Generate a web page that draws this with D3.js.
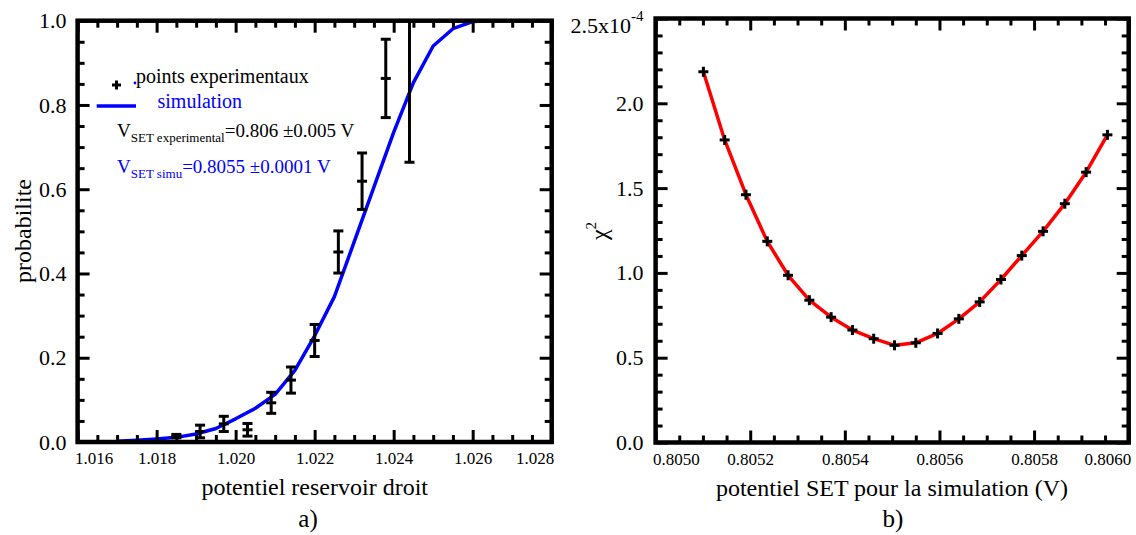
<!DOCTYPE html>
<html><head><meta charset="utf-8">
<script src="https://cdn.jsdelivr.net/npm/d3@7"></script>
<style>body{margin:0;background:#fff} svg text{font-family:'Liberation Serif','Tinos','Times New Roman','DejaVu Serif','Noto Serif',serif}</style>
</head><body><svg id="c" width="1136" height="535"></svg>
<script>
// ---- panel a) data ----
const simX = [1.0170,1.0175,1.0180,1.0185,1.0190,1.0195,1.0200,1.0205,1.0210,1.0215,1.0220,1.0225,1.0230,1.0235,1.0240,1.0245,1.0250,1.0255,1.0260,1.0265];
const simP = [0.002,0.004,0.007,0.011,0.019,0.032,0.055,0.080,0.113,0.170,0.252,0.345,0.475,0.605,0.735,0.853,0.940,0.981,0.998,1.000];
const expX = [1.0185,1.0191,1.0197,1.0203,1.0209,1.0214,1.0220,1.0226,1.0232,1.0238,1.0244];
const expP = [0.014,0.025,0.043,0.029,0.093,0.147,0.241,0.451,0.619,0.863,1.000];
const expErr = [0.004,0.015,0.018,0.015,0.025,0.031,0.038,0.050,0.067,0.093,0.336];
const aXTicks = [1.016,1.018,1.020,1.022,1.024,1.026,1.028];
const aXLabels = ["1.016","1.018","1.020","1.022","1.024","1.026","1.028"];
const aYTicks = [0,0.2,0.4,0.6,0.8,1.0];
const aYLabels = ["0.0","0.2","0.4","0.6","0.8","1.0"];
// ---- panel b) data ----
const chiX = [0.805101,0.805146,0.805191,0.805236,0.805280,0.805325,0.805371,0.805416,0.805461,0.805505,0.805550,0.805596,0.805641,0.805685,0.805730,0.805774,0.805819,0.805865,0.805910,0.805955];
const chiY = [2.186e-4,1.784e-4,1.461e-4,1.186e-4,0.986e-4,0.839e-4,0.739e-4,0.663e-4,0.612e-4,0.573e-4,0.588e-4,0.643e-4,0.729e-4,0.829e-4,0.961e-4,1.102e-4,1.245e-4,1.408e-4,1.594e-4,1.814e-4];
const bXTicks = [0.8050,0.8052,0.8054,0.8056,0.8058,0.8060];
const bXLabels = ["0.8050","0.8052","0.8054","0.8056","0.8058","0.8060"];
const bYTicks = [0,0.5e-4,1.0e-4,1.5e-4,2.0e-4,2.5e-4];
const bYLabels = ["0.0","0.5","1.0","1.5","2.0","2.5x10"];

const svg = d3.select('#c');
const FONT = "'Liberation Serif','Tinos','Times New Roman','DejaVu Serif','Noto Serif',serif";
const BLUE = '#0000ff';

function subdiv(ticks, n){
  const out=[];
  for(let i=0;i<ticks.length-1;i++){
    const a=ticks[i], b=ticks[i+1];
    for(let k=1;k<n;k++) out.push(a+(b-a)*k/n);
  }
  return out;
}

function axes(g, x, y, xT, xL, xN, yT, yL, yN, yPad){
  const [X0,X1]=x.range(), [Y0,Y1]=y.range();
  const add=(axis,tx,ty)=>{
    const s=g.append('g').attr('transform',`translate(${tx},${ty})`).call(axis);
    s.select('.domain').remove();
    s.attr('font-family',null).style('font-family',FONT);
    s.selectAll('.tick line').attr('stroke','#000').attr('stroke-width',3);
    s.selectAll('.tick text').attr('fill','#000');
    return s;
  };
  const fx=d=>xL[xT.indexOf(d)], fy=d=>yL[yT.indexOf(d)];
  const bx=add(d3.axisBottom(x).tickValues(xT).tickSize(-12).tickPadding(10).tickFormat(fx),0,Y0);
  bx.attr('font-size',17);
  const bt=bx.selectAll('.tick text');
  bt.filter((d,i)=>i===0).attr('text-anchor','start').attr('x',-3);
  bt.filter((d,i)=>i===xT.length-1).attr('text-anchor','end').attr('x',2);
  add(d3.axisBottom(x).tickValues(subdiv(xT,xN)).tickSize(-7).tickFormat(''),0,Y0);
  add(d3.axisTop(x).tickValues(xT).tickSize(-12).tickFormat(''),0,Y1);
  add(d3.axisTop(x).tickValues(subdiv(xT,xN)).tickSize(-7).tickFormat(''),0,Y1);
  const ly=add(d3.axisLeft(y).tickValues(yT).tickSize(-12).tickPadding(yPad).tickFormat(fy),X0,0);
  ly.attr('font-size',22);
  add(d3.axisLeft(y).tickValues(subdiv(yT,yN)).tickSize(-7).tickFormat(''),X0,0);
  add(d3.axisRight(y).tickValues(yT).tickSize(-12).tickFormat(''),X1,0);
  add(d3.axisRight(y).tickValues(subdiv(yT,yN)).tickSize(-7).tickFormat(''),X1,0);
  return ly;
}

function plus(g, cx, cy, s){
  g.append('line').attr('x1',cx-s).attr('x2',cx+s).attr('y1',cy).attr('y2',cy);
  g.append('line').attr('x1',cx).attr('x2',cx).attr('y1',cy-s).attr('y2',cy+s);
}

// ================= Panel a =================
const xa = d3.scaleLinear().domain([1.016,1.028]).range([77.6,551.7]);
const ya = d3.scaleLinear().domain([0,1]).range([442,20.7]).clamp(true);
const ga = svg.append('g');
ga.append('path').datum(simX.map((v,i)=>[v,simP[i]]))
  .attr('d',d3.line().x(d=>xa(d[0])).y(d=>ya(d[1])))
  .attr('fill','none').attr('stroke',BLUE).attr('stroke-width',3.5).attr('stroke-linejoin','round');
const ep = ga.append('g').attr('stroke','#000').attr('stroke-width',3);
expX.forEach((v,i)=>{
  const cx=xa(v), top=ya(expP[i]+expErr[i]), bot=ya(expP[i]-expErr[i]), cy=ya(expP[i]);
  ep.append('line').attr('x1',cx).attr('x2',cx).attr('y1',top).attr('y2',bot);
  if(expP[i]+expErr[i] <= 1) ep.append('line').attr('x1',cx-5).attr('x2',cx+5).attr('y1',top).attr('y2',top);
  ep.append('line').attr('x1',cx-5).attr('x2',cx+5).attr('y1',bot).attr('y2',bot);
  ep.append('line').attr('x1',cx-5).attr('x2',cx+5).attr('y1',cy).attr('y2',cy);
});
axes(ga, xa, ya, aXTicks, aXLabels, 4, aYTicks, aYLabels, 4, 11);
ga.append('rect').attr('x',77.6).attr('y',20.7).attr('width',551.7-77.6).attr('height',442-20.7)
  .attr('fill','none').attr('stroke','#000').attr('stroke-width',4.5);

// legend a
const lg = ga.append('g');
const lp = lg.append('g').attr('stroke','#000').attr('stroke-width',3);
plus(lp, 116.5, 85, 4.5);
lg.append('circle').attr('cx',135).attr('cy',83).attr('r',1.4).attr('fill',BLUE);
lg.append('text').attr('x',136).attr('y',83).attr('font-size',20).text('points experimentaux');
lg.append('line').attr('x1',96.7).attr('x2',136).attr('y1',106).attr('y2',106).attr('stroke',BLUE).attr('stroke-width',3.5);
lg.append('text').attr('x',157.5).attr('y',108).attr('font-size',20).attr('fill',BLUE).text('simulation');
const t1 = lg.append('text').attr('x',117).attr('y',137).attr('font-size',19);
t1.append('tspan').text('V');
t1.append('tspan').attr('font-size',13).attr('dy',4.5).text('SET experimental');
t1.append('tspan').attr('dy',-4.5).text('=0.806 \u00B10.005 V');
const t2 = lg.append('text').attr('x',117).attr('y',173).attr('font-size',19).attr('fill',BLUE);
t2.append('tspan').text('V');
t2.append('tspan').attr('font-size',13).attr('dy',4.5).text('SET simu');
t2.append('tspan').attr('dy',-4.5).text('=0.8055 \u00B10.0001 V');

ga.append('text').attr('transform','translate(31,231) rotate(-90)').attr('text-anchor','middle')
  .attr('font-size',24).text('probabilite');
ga.append('text').attr('x',314.7).attr('y',495).attr('text-anchor','middle').attr('font-size',24).text('potentiel reservoir droit');
ga.append('text').attr('x',308).attr('y',527).attr('text-anchor','middle').attr('font-size',25).text('a)');

// ================= Panel b =================
const xb = d3.scaleLinear().domain([0.8050,0.8060]).range([655.6,1128.7]);
const yb = d3.scaleLinear().domain([0,2.5e-4]).range([442.5,18.5]);
const gb = svg.append('g');
gb.append('path').datum(chiX.map((v,i)=>[v,chiY[i]]))
  .attr('d',d3.line().x(d=>xb(d[0])).y(d=>yb(d[1])))
  .attr('fill','none').attr('stroke','#ff0000').attr('stroke-width',3.5).attr('stroke-linejoin','round');
const bp = gb.append('g').attr('stroke','#000').attr('stroke-width',3);
chiX.forEach((v,i)=>plus(bp, xb(v), yb(chiY[i]), 5));
const lyb = axes(gb, xb, yb, bXTicks, bXLabels, 4, bYTicks, bYLabels, 5, 12);
const topLab = lyb.selectAll('.tick text').filter((d,i)=>i===bYTicks.length-1);
topLab.attr('dy','0.62em');
topLab.append('tspan').attr('font-size',15).attr('dy','-0.75em').text('-4');
gb.append('rect').attr('x',655.6).attr('y',18.5).attr('width',1128.7-655.6).attr('height',442.5-18.5)
  .attr('fill','none').attr('stroke','#000').attr('stroke-width',4.5);

const chi = gb.append('text').attr('transform','translate(607,231) rotate(-90)').attr('text-anchor','middle').attr('font-size',24);
chi.append('tspan').text('\u03C7');
chi.append('tspan').attr('font-size',15).attr('dy',-11).text('2');
gb.append('text').attr('x',892).attr('y',496).attr('text-anchor','middle').attr('font-size',24).text('potentiel SET pour la simulation (V)');
gb.append('text').attr('x',893).attr('y',527).attr('text-anchor','middle').attr('font-size',25).text('b)');
</script></body></html>
